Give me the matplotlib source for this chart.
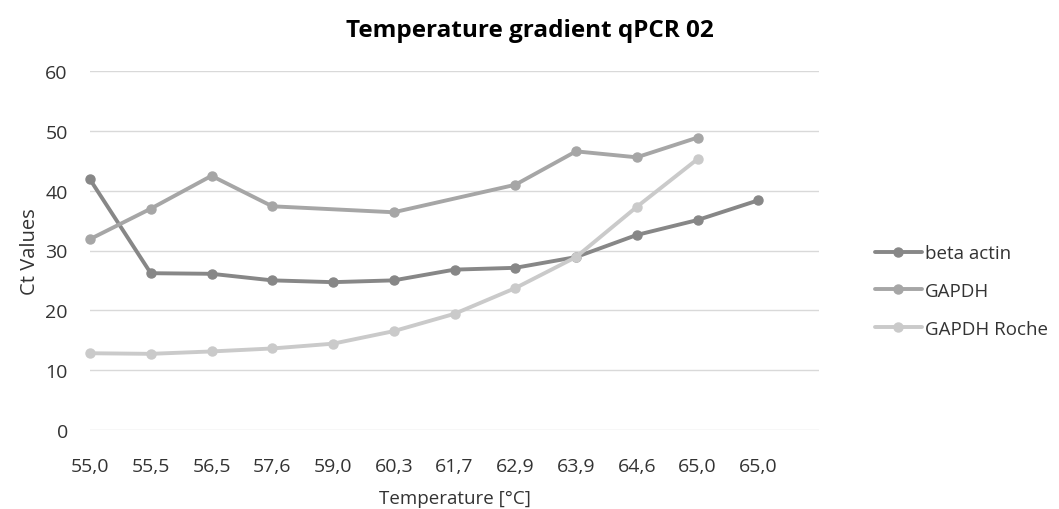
import numpy as np
import matplotlib
matplotlib.use('Agg')
import matplotlib.pyplot as plt

plt.rcParams['font.family'] = ['Open Sans', 'DejaVu Sans']

temps = ['55,0', '55,5', '56,5', '57,6', '59,0', '60,3', '61,7', '62,9', '63,9', '64,6', '65,0', '65,0']
beta_actin = [41.9, 26.2, 26.1, 25.0, 24.7, 25.0, 26.8, 27.1, 28.9, 32.6, 35.1, 38.4]
gapdh = [31.9, 37.0, 42.5, 37.4, None, 36.4, None, 41.0, 46.6, 45.6, 48.9, None]
gapdh_roche = [12.8, 12.7, 13.1, 13.6, 14.4, 16.5, 19.4, 23.7, 28.9, 37.3, 45.3, None]

series = [('beta actin', beta_actin, '#878787'),
          ('GAPDH', gapdh, '#a6a6a6'),
          ('GAPDH Roche', gapdh_roche, '#cacaca')]

fig = plt.figure(figsize=(10.59, 5.10), dpi=100)
ax = fig.add_axes([90/1059, 1-430.7/510, (819-90)/1059, (430.7-72.3)/510])

handles = []
for name, vals, col in series:
    # gaps are bridged, like Excel's "connect data points with line"
    xs = [i for i, v in enumerate(vals) if v is not None]
    ys = [v for v in vals if v is not None]
    line, = ax.plot(xs, ys, color=col, lw=2.8, marker='o', markersize=6.5,
                    solid_capstyle='round', label=name, clip_on=False, zorder=3)
    handles.append(line)

ax.set_xlim(0, 12)
ax.set_ylim(0, 60)
ax.set_yticks(range(0, 61, 10))
ax.set_xticks(range(len(temps)))
ax.set_xticklabels(temps)
ax.grid(axis='y', color='#d9d9d9', lw=1)
ax.set_axisbelow(True)
for s in ax.spines.values():
    s.set_visible(False)
ax.tick_params(length=0, labelsize=14, colors='#333333')
ax.tick_params(axis='y', pad=16)
ax.tick_params(axis='x', pad=20)

ax.set_xlabel('Temperature [°C]', fontsize=13.5, color='#333333', labelpad=10)
ax.set_ylabel('Ct Values', fontsize=14.5, color='#333333', labelpad=4)
fig.text(530/1059, 1-31/510, 'Temperature gradient qPCR 02', ha='center', va='center',
         fontsize=17.5, fontweight='bold', color='black')

fig.legend(handles=handles, loc='center left', bbox_to_anchor=(858/1059, 1-292/510),
           frameon=False, fontsize=13.5, handlelength=2.5, handletextpad=0.15,
           labelspacing=1.05, labelcolor='#333333')

fig.savefig('out.png', dpi=100)
